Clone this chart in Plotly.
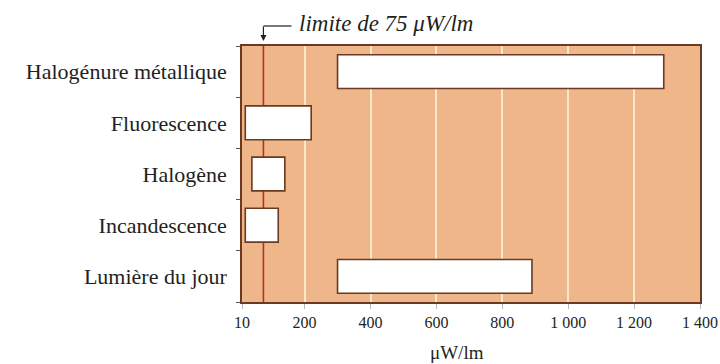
import plotly.graph_objects as go

categories = ["Halogénure métallique", "Fluorescence", "Halogène", "Incandescence", "Lumière du jour"]
range_start = [300, 20, 40, 20, 300]
range_end = [1290, 220, 140, 120, 890]
limit_value = 75
tick_values = [10, 200, 400, 600, 800, 1000, 1200, 1400]
tick_labels = ["10", "200", "400", "600", "800", "1 000", "1 200", "1 400"]
x_title = "μW/lm"
limit_text = "limite de 75 μW/lm"

SERIF = "Liberation Serif"
BROWN = "#6B3A22"
TEXT = "#231F20"

widths = [e - s for s, e in zip(range_start, range_end)]

fig = go.Figure()
fig.add_trace(go.Bar(
    y=categories, x=widths, base=range_start, orientation="h",
    width=0.66,
    marker=dict(color="white", line=dict(color=BROWN, width=1.6)),
    hoverinfo="skip",
))

# limit line
fig.add_shape(type="line", xref="x", yref="paper", x0=limit_value, x1=limit_value,
              y0=0, y1=1, line=dict(color="#B5302A", width=1.6), layer="below")
# elbow connector above plot
fig.add_shape(type="line", xref="x", yref="paper", xsizemode="pixel", ysizemode="pixel",
              xanchor=limit_value, yanchor=1, x0=0, x1=28, y0=20, y1=20,
              line=dict(color=TEXT, width=1.2))
fig.add_annotation(x=limit_value, y=1, xref="x", yref="paper", text="",
                   showarrow=True, ax=0, ay=-21, arrowhead=2, arrowsize=1,
                   arrowwidth=1.2, arrowcolor=TEXT, standoff=5)
fig.add_annotation(x=limit_value, y=1, xref="x", yref="paper", xanchor="left",
                   yanchor="middle", xshift=34, yshift=23, showarrow=False,
                   text="<i>" + limit_text + "</i>",
                   font=dict(family=SERIF, size=23, color=TEXT))
fig.add_annotation(x=0.469, y=0, xref="paper", yref="paper", xanchor="center",
                   yanchor="middle", yshift=-50, showarrow=False, text=x_title,
                   font=dict(family=SERIF, size=19, color=TEXT))

fig.update_layout(
    width=720, height=364, autosize=False,
    margin=dict(l=242, r=20, t=46, b=62),
    paper_bgcolor="white", plot_bgcolor="#EEB689",
    showlegend=False, bargap=0.34,
    font=dict(family=SERIF, color=TEXT),
)
fig.update_xaxes(
    range=[10, 1400], tickvals=tick_values, ticktext=tick_labels,
    showgrid=True, gridcolor="#FBE8C8", gridwidth=1.5,
    showline=True, linecolor=BROWN, linewidth=1.5, mirror=True,
    ticks="outside", ticklen=5, tickcolor="#BBBBBB", tickwidth=1,
    tickfont=dict(family=SERIF, size=16, color=TEXT), zeroline=False,
    automargin=False,
)
fig.update_yaxes(
    categoryorder="array", categoryarray=categories[::-1],
    tickson="boundaries", ticks="outside", ticklen=4, tickcolor="#555555",
    showgrid=False, showline=True, linecolor=BROWN, linewidth=1.5, mirror=True,
    ticklabelstandoff=9, automargin=False,
    tickfont=dict(family=SERIF, size=22, color=TEXT),
)
fig.write_html("out.html",
               config={"displayModeBar": False, "responsive": False},
               post_script="document.body.style.margin='0';document.body.style.overflow='hidden';")
